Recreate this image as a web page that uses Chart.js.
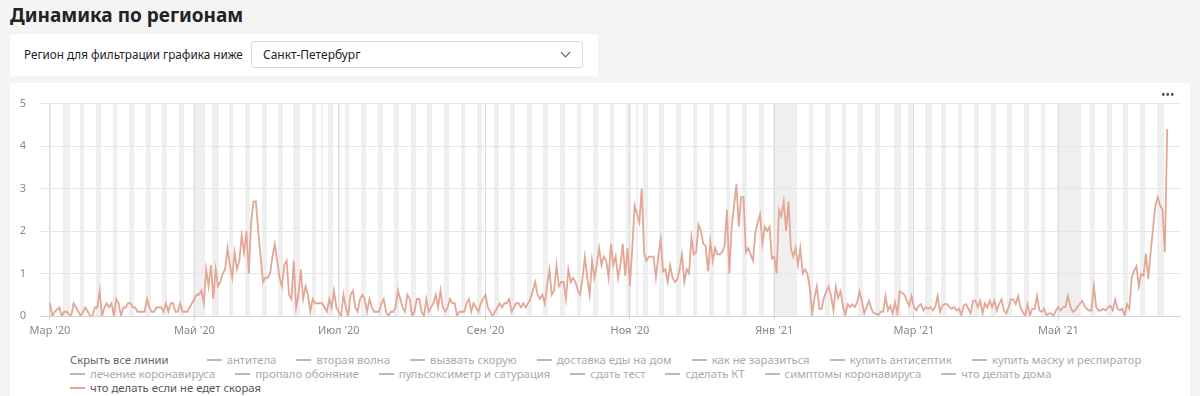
<!DOCTYPE html>
<html lang="ru">
<head>
<meta charset="utf-8">
<title>Динамика по регионам</title>
<script src="https://cdn.jsdelivr.net/npm/chart.js@4.4.1/dist/chart.umd.min.js"></script>
<style>
  body { margin: 0; width: 1200px; height: 396px; background: #f4f4f4; font-family: "Noto Sans", sans-serif; position: relative; overflow: hidden; }
  #title { position: absolute; left: 10px; top: 2px; font-size: 19px; font-weight: 700; color: #222; }
  #filter { position: absolute; left: 10px; top: 34px; width: 588px; height: 42px; background: #fff; border-radius: 3px; }
  #filter .lbl { position: absolute; left: 14px; top: 12px; font-size: 11.7px; color: #222; }
  #filter .select { position: absolute; left: 241px; top: 7px; width: 332px; height: 27px; box-sizing: border-box; border: 1px solid #dadada; border-radius: 3px; padding-left: 11px; font-size: 12px; line-height: 25px; color: #222; }
  #filter .chev { position: absolute; right: 13px; top: 7px; width: 6px; height: 6px; border-right: 1.3px solid #555; border-bottom: 1.3px solid #555; transform: rotate(45deg); }
  #panel { position: absolute; left: 10px; top: 83px; width: 1180px; height: 330px; background: #fff; border-radius: 3px; }
  #wrap { position: absolute; left: 0; top: 0; width: 1180px; height: 260px; }
  #more { position: absolute; left: 1151px; top: 3px; font-size: 12px; color: #555; }
  #legend { position: absolute; left: 60px; top: 270px; font-size: 11.3px; line-height: 14px; white-space: nowrap; }
  #legend .row { display: flex; }
  #legend .item { display: flex; align-items: center; margin-right: 20px; color: #aaa; }
  #legend .item .dash { display: inline-block; width: 15px; height: 1.5px; background: #bbb; margin-right: 5px; }
  #legend .hide { color: #666; margin-right: 38px; }
</style>
</head>
<body>
<div id="title">Динамика по регионам</div>
<div id="filter">
  <span class="lbl">Регион для фильтрации графика ниже</span>
  <div class="select">Санкт-Петербург<span class="chev"></span></div>
</div>
<div id="panel">
  <div id="wrap"><canvas id="chart" width="1180" height="260"></canvas></div>
  <span id="more">•••</span>
  <div id="legend"></div>
</div>
<script>
// daily values, Санкт-Петербург, starting 2020-03-01
const startDay = "2020-03-01";
const dailyValues = [
  0.3, 0, 0.1, 0.15, 0.2, 0, 0.1, 0.1, 0.05, 0,
  0.3, 0.2, 0.1, 0, 0.1, 0.2, 0.1, 0, 0, 0.2,
  0.2, 0.6, 0, 0.2, 0.3, 0.2, 0.3, 0, 0.4, 0.3,
  0, 0.2, 0.2, 0.3, 0.3, 0.2, 0.2, 0.1, 0.1, 0.1,
  0.1, 0.4, 0.2, 0.1, 0.1, 0.2, 0.2, 0.2, 0.1, 0.3,
  0.1, 0.3, 0.3, 0.1, 0.1, 0.3, 0.1, 0.1, 0.1, 0.2,
  0.3, 0.4, 0.5, 0.5, 0.6, 0.3, 1.1, 0.7, 1.2, 0.4,
  1.1, 0.7, 0.8, 1.0, 1.1, 1.6, 1.2, 0.9, 1.5, 1.1,
  1.3, 1.9, 1.5, 2.0, 1.0, 2.2, 2.7, 2.7, 2.0, 1.4,
  0.8, 0.9, 0.9, 1.0, 1.4, 1.7, 1.3, 0.9, 0.7, 1.2,
  1.3, 0.5, 0.4, 1.3, 0.2, 0.5, 1.1, 0.4, 0.7, 0.5,
  0.1, 0.4, 0.3, 0.3, 0.3, 0.3, 0.2, 0.1, 0.4, 0.2,
  0.6, 0.2, 0.1, 0, 0.5, 0.2, 0, 0.5, 0.6, 0.2,
  0.1, 0.4, 0.5, 0.4, 0.1, 0.4, 0.2, 0.1, 0.1, 0.1,
  0.3, 0.4, 0.1, 0, 0.1, 0.1, 0.2, 0.6,
  0.4, 0.2, 0.1, 0.5, 0.4, 0, 0.1, 0.4, 0.4, 0.1,
  0, 0.4, 0.1, 0.2, 0.3, 0.5, 0.2, 0.6, 0.2, 0.1,
  0.2, 0.4, 0.3, 0.3, 0, 0.1, 0.1, 0.1, 0.3, 0.4,
  0.1, 0.3, 0.2, 0.1, 0.3, 0.4, 0.5, 0.2, 0.1, 0,
  0.1, 0.2, 0.3, 0.2, 0.3, 0.3, 0.4, 0.1, 0.2, 0.3,
  0.3, 0.2, 0.3, 0.2, 0.3, 0.4, 0.6, 0.8, 0.5, 0.4,
  0.5, 0.3, 0.7, 1.1, 0.5, 0.6, 1.2, 0.7, 0.8, 0.8,
  0.4, 1.1, 0.8, 0.9, 0.8, 0.6, 0.5, 0.9, 1.4, 0.9, 0.5,
  1.3, 0.9, 1.2, 1.6, 1.2, 1.4, 1.3, 0.9, 1.7, 1.2,
  1.4, 0.9, 1.2, 1.7, 0.95, 1.6, 0.7, 1.6, 2.6, 2.4,
  2.2, 3.0, 1.5, 1.3, 1.4, 1.4, 1.4, 0.9, 1.4, 1.8,
  1.05, 1.1, 0.8, 1.2, 0.9, 0.8, 0.85, 1.1, 1.45, 0.8,
  1.1, 1.0, 1.85, 1.45, 1.5, 2.15, 2.0, 1.7, 1.65, 1.05,
  1.75, 1.3, 1.6, 1.45, 1.45, 1.5, 1.65, 2.5, 1.0, 2.1,
  2.6, 3.1, 2.1, 2.8, 2.8, 1.5, 1.6, 1.45, 1.3, 1.95,
  2.2, 2.4, 1.7, 2.1, 2.0, 2.1, 1.35, 1.4, 1.0, 2.5,
  2.35, 2.7, 2.0, 2.7,
  1.6, 1.4, 1.6, 1.2, 1.6, 1.0, 1.1, 1.0, 0.65, 0.06,
  0.43, 0.7, 0.17, 0.17, 0.43, 0.58, 0.69, 0.47, 0.13, 0.69,
  0.43, 0.58, 0.24, 0.02, 0.28, 0.21, 0.28, 0.21, 0.32, 0.58,
  0.36, 0.06, 0.21, 0.36, 0.17, 0.06, 0.06, 0.02, 0.1, 0.1,
  0.47, 0.13, 0.24, 0.06, 0.32, 0.06, 0.58, 0.54, 0.5, 0.36,
  0.24, 0.47, 0.21, 0.13, 0.24, 0.28, 0.13, 0.21, 0.17, 0.21,
  0.13, 0.21, 0.47, 0.1, 0.24, 0.28, 0.28, 0.21, 0.17, 0.21,
  0.13, 0.17, 0.02, 0.24, 0.28, 0.17, 0.06, 0.36, 0.36, 0.21,
  0.36, 0.06, 0.3, 0.2,
  0.36, 0.21, 0.36, 0.13, 0.28, 0.39, 0.13, 0.06, 0.21, 0.39,
  0.39, 0.28, 0.47, 0.21, 0.1, 0, 0.28, 0.02, 0.17, 0.17,
  0.47, 0.13, 0.1, 0.17, 0.02, 0.06, 0.06, 0, 0.13, 0.21,
  0.13, 0.21, 0.21, 0.47, 0.24, 0.1, 0.13, 0.21, 0.28, 0.36,
  0.24, 0.17, 0.13, 0.13, 0.7, 0.21, 0.13, 0.13, 0.17, 0.13,
  0.21, 0.24, 0.13, 0.39, 0.17, 0.13, 0.17, 0, 0.28, 0.17,
  0.9, 1.06, 1.17, 0.7, 0.99, 0.95, 1.47, 0.87, 1.5, 2.06,
  2.6, 2.8, 2.6, 2.5, 1.5, 4.4
];

// x ticks: every other month start, as day offsets from startDay
const tickDays = [0, 61, 122, 184, 245, 306, 365, 426];
const tickLabels = ["Мар '20", "Май '20", "Июл '20", "Сен '20", "Ноя '20", "Янв '21", "Мар '21", "Май '21"];

// weekday holidays (shaded like weekends) and working saturdays
const holidays = [
  "2020-03-09", "2020-05-01", "2020-05-04", "2020-05-05", "2020-05-11", "2020-06-12",
  "2020-06-24", "2020-07-01", "2020-11-04",
  "2021-01-01", "2021-01-04", "2021-01-05", "2021-01-06", "2021-01-07", "2021-01-08",
  "2021-02-22", "2021-02-23", "2021-03-08",
  "2021-05-03", "2021-05-04", "2021-05-05", "2021-05-06", "2021-05-07", "2021-05-10", "2021-06-14"
];
const workingDays = ["2021-02-20"];

const seriesNames = [
  "антитела", "вторая волна", "вызвать скорую", "доставка еды на дом", "как не заразиться",
  "купить антисептик", "купить маску и респиратор", "лечение коронавируса", "пропало обоняние",
  "пульсоксиметр и сатурация", "сдать тест", "сделать КТ", "симптомы коронавируса",
  "что делать дома", "что делать если не едет скорая"
];
const activeSeries = "что делать если не едет скорая";
const legendBreaks = [7, 14];
const lineColor = "#e3a796";

// --- off days -> shaded ranges
const DAY = 86400000;
const toUTC = s => { const p = s.split("-").map(Number); return Date.UTC(p[0], p[1] - 1, p[2]); };
const START = toUTC(startDay);
const dayOf = s => Math.round((toUTC(s) - START) / DAY);
const holidaySet = new Set(holidays.map(dayOf));
const workSet = new Set(workingDays.map(dayOf));

let offRanges = [];
for (let i = 0; i < dailyValues.length; i++) {
  const wd = new Date(START + i * DAY).getUTCDay();
  const off = (wd === 0 || wd === 6 || holidaySet.has(i)) && !workSet.has(i);
  if (!off) continue;
  const last = offRanges[offRanges.length - 1];
  if (last && last[1] === i - 1) last[1] = i;
  else offRanges.push([i, i]);
}

const bandsPlugin = {
  id: "bands",
  beforeDraw(chart) {
    const ctx = chart.ctx, a = chart.chartArea, x = chart.scales.x;
    ctx.save();
    ctx.fillStyle = "#efefef";
    offRanges.forEach(r => {
      const x0 = Math.round(x.getPixelForValue(r[0] - 0.5));
      const x1 = Math.round(x.getPixelForValue(r[1] + 0.5));
      ctx.fillRect(x0, a.top, x1 - x0, a.bottom - a.top);
    });
    ctx.restore();
  }
};

const axisFont = { family: "'Noto Sans', sans-serif", size: 11 };

new Chart(document.getElementById("chart"), {
  type: "line",
  data: {
    datasets: [{
      label: activeSeries,
      data: dailyValues.map((v, i) => ({ x: i, y: v })),
      borderColor: lineColor,
      borderWidth: 1.8,
      pointRadius: 0,
      tension: 0,
      fill: false
    }]
  },
  options: {
    responsive: false,
    animation: false,
    layout: { padding: { top: 8, right: 10, left: 0, bottom: 0 } },
    plugins: { legend: { display: false }, tooltip: { enabled: false } },
    scales: {
      x: {
        type: "linear",
        min: -4.2,
        max: 477.4,
        afterBuildTicks: axis => { axis.ticks = tickDays.map(v => ({ value: v })); },
        afterFit: axis => { axis.height = 27; },
        ticks: {
          autoSkip: false,
          maxRotation: 0,
          padding: 3,
          color: "#888",
          font: axisFont,
          callback: v => tickLabels[tickDays.indexOf(v)]
        },
        grid: { color: "#dcdcdc", tickLength: 5 },
        border: { color: "#d2d2d2" }
      },
      y: {
        min: 0,
        max: 5,
        afterFit: axis => { axis.width = 30; },
        ticks: { stepSize: 1, padding: 14, color: "#888", font: axisFont },
        grid: { color: "#e6e6e6", drawTicks: false },
        border: { display: false }
      }
    }
  },
  plugins: [bandsPlugin]
});

// legend (only the active line is shown)
const legend = document.getElementById("legend");
let row = document.createElement("div");
row.className = "row";
legend.appendChild(row);
const hide = document.createElement("span");
hide.className = "hide";
hide.textContent = "Скрыть все линии";
row.appendChild(hide);
seriesNames.forEach((name, i) => {
  if (legendBreaks.includes(i)) {
    row = document.createElement("div");
    row.className = "row";
    legend.appendChild(row);
  }
  const item = document.createElement("span");
  item.className = "item";
  const dash = document.createElement("span");
  dash.className = "dash";
  item.appendChild(dash);
  item.appendChild(document.createTextNode(name));
  if (name === activeSeries) {
    item.style.color = "#555";
    dash.style.background = lineColor;
  }
  row.appendChild(item);
});
</script>
</body>
</html>
